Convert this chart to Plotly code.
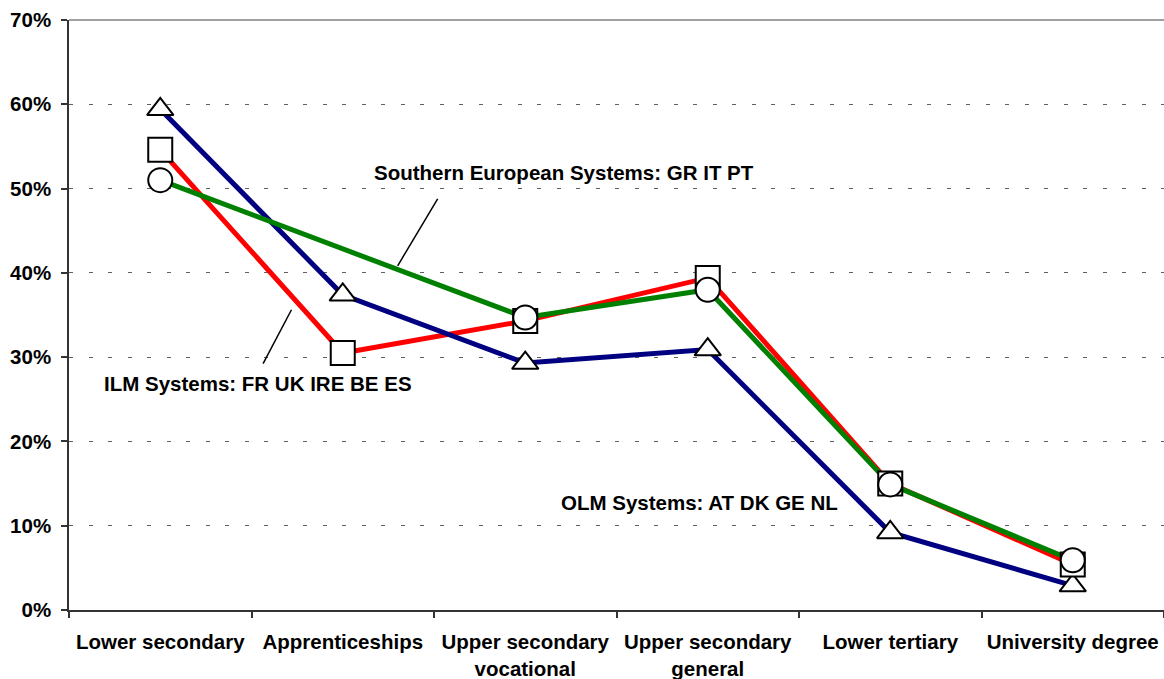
import plotly.graph_objects as go

categories = ["Lower secondary", "Apprenticeships", "Upper secondary<br>vocational",
              "Upper secondary<br>general", "Lower tertiary", "University degree"]
ilm = [0.546, 0.305, 0.343, 0.394, 0.150, 0.054]
olm = [0.594, 0.374, 0.293, 0.309, 0.092, 0.029]
southern = [0.510, None, 0.347, 0.380, 0.149, 0.059]
y_ticks = [0, 0.1, 0.2, 0.3, 0.4, 0.5, 0.6, 0.7]

FONT = "Arial, Liberation Sans, sans-serif"
FS = 20.5

fig = go.Figure()

# lines
fig.add_trace(go.Scatter(x=categories, y=ilm, mode="lines",
                         line=dict(color="#FF0000", width=5), hoverinfo="skip"))
fig.add_trace(go.Scatter(x=categories, y=olm, mode="lines",
                         line=dict(color="#000080", width=5), hoverinfo="skip"))
fig.add_trace(go.Scatter(x=categories, y=southern, mode="lines", connectgaps=True,
                         line=dict(color="#008000", width=5), hoverinfo="skip"))

# markers on top
mk = dict(color="white", line=dict(color="black", width=2))
fig.add_trace(go.Scatter(x=categories, y=olm, mode="markers",
                         marker=dict(symbol="triangle-up", size=23, **mk)))
fig.add_trace(go.Scatter(x=categories, y=ilm, mode="markers",
                         marker=dict(symbol="square", size=24, **mk)))
fig.add_trace(go.Scatter(x=categories, y=southern, mode="markers",
                         marker=dict(symbol="circle", size=24, **mk)))

ann_font = dict(family=FONT, size=FS, color="black", weight="bold")
annotations = [
    dict(x=2.213, y=0.5186, text="Southern European Systems: GR IT PT"),
    dict(x=0.536, y=0.2693, text="ILM Systems: FR UK IRE BE ES"),
    dict(x=2.954, y=0.1271, text="OLM Systems: AT DK GE NL"),
]
for a in annotations:
    fig.add_annotation(xref="x", yref="y", showarrow=False, xanchor="center",
                       yanchor="middle", font=ann_font, **a)

shapes = [
    dict(type="line", xref="x", yref="y", x0=1.520, y0=0.4878, x1=1.301, y1=0.4084,
         line=dict(color="black", width=1.5)),
    dict(type="line", xref="x", yref="y", x0=0.719, y0=0.3562, x1=0.5635, y1=0.2922,
         line=dict(color="black", width=1.5)),
    dict(type="line", xref="paper", yref="paper", x0=0, x1=1, y0=1, y1=1,
         line=dict(color="#808080", width=1.5)),
]

fig.update_layout(
    width=1164, height=679,
    margin=dict(l=69, r=0, t=20, b=68.5),
    paper_bgcolor="white", plot_bgcolor="white",
    showlegend=False,
    shapes=shapes,
    xaxis=dict(type="category", range=[-0.5, 5.5], tickson="boundaries",
               automargin=False,
               ticks="outside", ticklen=6, tickcolor="#333333", tickwidth=1.5,
               showline=True, linecolor="#333333", linewidth=1.5,
               showgrid=False, zeroline=False, ticklabelstandoff=13,
               tickfont=dict(family=FONT, size=FS, color="black", weight="bold")),
    yaxis=dict(range=[0, 0.7], tickvals=y_ticks, tickformat=".0%",
               automargin=False,
               ticks="outside", ticklen=6, tickcolor="#333333", tickwidth=1.5,
               showline=True, linecolor="#333333", linewidth=1.5,
               showgrid=True, gridcolor="#606060", gridwidth=1,
               griddash="4px,15.5px", zeroline=False, ticklabelstandoff=6,
               tickfont=dict(family=FONT, size=FS, color="black", weight="bold")),
)

fig.write_html(
    "out.html",
    config={"displayModeBar": False},
    post_script="document.body.style.margin='0px';document.body.style.overflow='hidden';",
)
